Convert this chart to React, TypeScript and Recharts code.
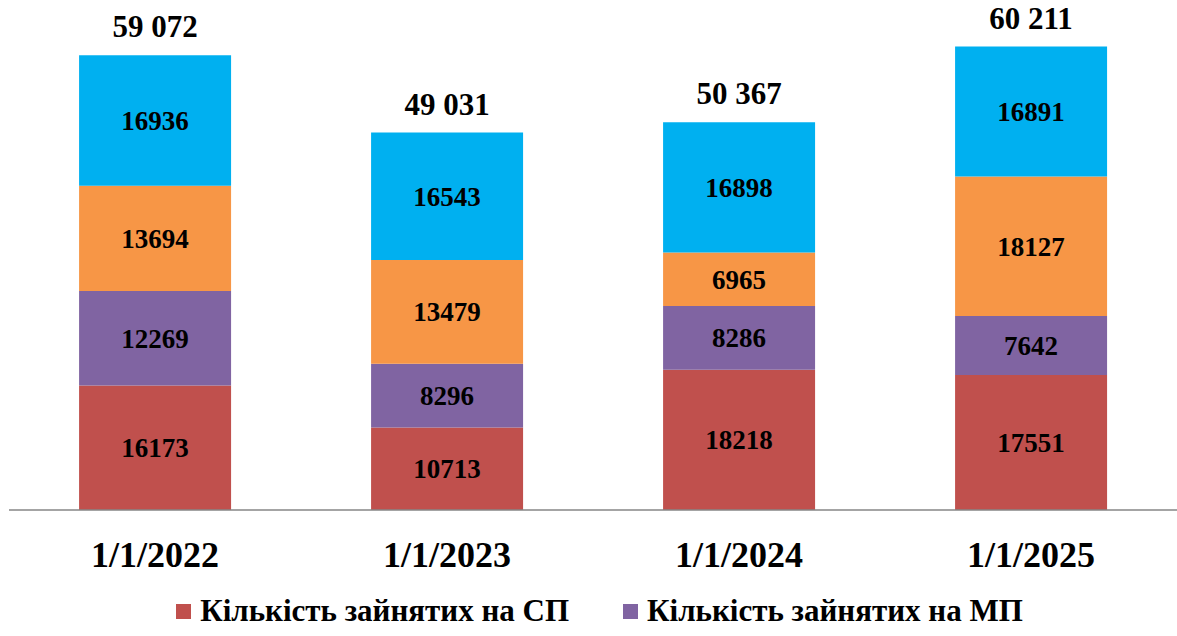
import { BarChart, Bar, XAxis, YAxis, LabelList } from "recharts";

const CATEGORIES = ["1/1/2022", "1/1/2023", "1/1/2024", "1/1/2025"];
const SP = [16173, 10713, 18218, 17551];
const MP = [12269, 8296, 8286, 7642];
const THIRD = [13694, 13479, 6965, 18127];
const FOURTH = [16936, 16543, 16898, 16891];
const TOTALS = [59072, 49031, 50367, 60211];

const LEGEND = [
  { label: "Кількість зайнятих на СП", color: "#C0504D" },
  { label: "Кількість зайнятих на МП", color: "#8064A2" },
];

const FONT = "'Liberation Serif', 'DejaVu Serif', serif";

const data = CATEGORIES.map((c, i) => ({
  name: c,
  sp: SP[i],
  mp: MP[i],
  third: THIRD[i],
  fourth: FOURTH[i],
  total: TOTALS[i],
}));

const fmtTotal = (v: number) => String(v).replace(/\B(?=(\d{3})+(?!\d))/g, " ");

function Tick(props: any) {
  const { x, y, payload } = props;
  return (
    <text x={x} y={y + 57} textAnchor="middle" fontFamily={FONT} fontWeight="bold" fontSize={36} fill="#000">
      {payload.value}
    </text>
  );
}

function TotalLabel(props: any) {
  const { x, y, width, index } = props;
  return (
    <text x={x + width / 2} y={y - 18} textAnchor="middle" fontFamily={FONT} fontWeight="bold" fontSize={31} fill="#000">
      {fmtTotal(TOTALS[index])}
    </text>
  );
}

const inner = { fontFamily: FONT, fontWeight: "bold", fontSize: 27, fill: "#000" } as const;

export default function App() {
  return (
    <div style={{ position: "absolute", left: 0, top: 0, width: 1177, height: 636, background: "#fff" }}>
      <BarChart width={1177} height={636} data={data} margin={{ top: 2, right: 0, left: 9, bottom: 96 }} barCategoryGap="24%">
        <YAxis hide domain={[0, 66000]} />
        <XAxis dataKey="name" height={30} tick={<Tick />} tickLine={false} tickSize={0} tickMargin={0} axisLine={{ stroke: "#868686", strokeWidth: 1.5 }} />
        <Bar dataKey="sp" stackId="a" fill="#C0504D" isAnimationActive={false}>
          <LabelList dataKey="sp" position="center" style={inner} />
        </Bar>
        <Bar dataKey="mp" stackId="a" fill="#8064A2" isAnimationActive={false}>
          <LabelList dataKey="mp" position="center" style={inner} />
        </Bar>
        <Bar dataKey="third" stackId="a" fill="#F79646" isAnimationActive={false}>
          <LabelList dataKey="third" position="center" style={inner} />
        </Bar>
        <Bar dataKey="fourth" stackId="a" fill="#00B0F0" isAnimationActive={false}>
          <LabelList dataKey="fourth" position="center" style={inner} />
          <LabelList dataKey="total" content={<TotalLabel />} />
        </Bar>
      </BarChart>
      <div style={{ position: "absolute", left: 0, top: 593, width: 1177, display: "flex", justifyContent: "center", gap: 54, paddingLeft: 22, boxSizing: "border-box" }}>
        {LEGEND.map((l) => (
          <div key={l.label} style={{ display: "flex", alignItems: "center", fontFamily: FONT, fontWeight: "bold", fontSize: 31, color: "#000" }}>
            <span style={{ width: 15, height: 15, background: l.color, display: "inline-block", marginRight: 9 }} />
            {l.label}
          </div>
        ))}
      </div>
    </div>
  );
}
